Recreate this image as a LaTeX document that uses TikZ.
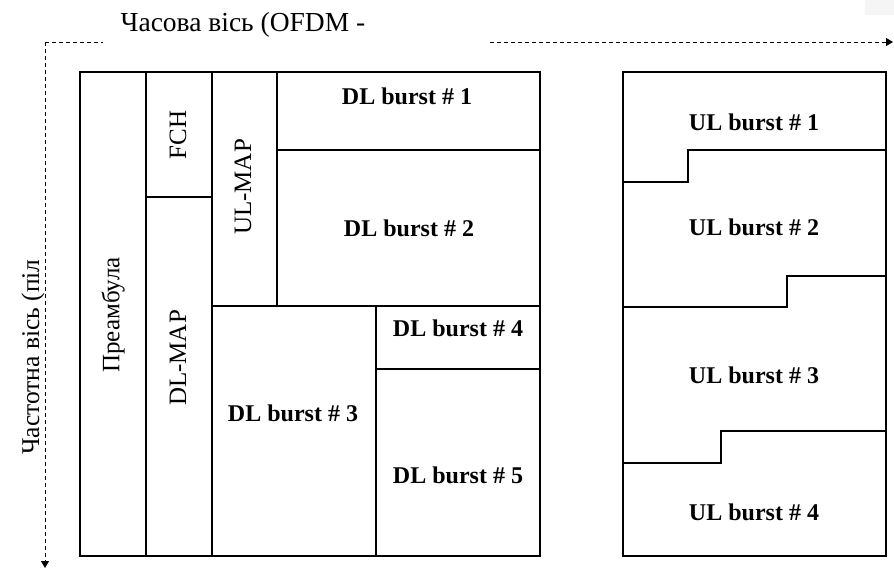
\documentclass[tikz,border=0pt]{standalone}
\usepackage{fontspec}
\setmainfont{Liberation Serif}
\usetikzlibrary{arrows.meta}

\tikzset{
  frame/.style={line width=1.1pt},
  axisline/.style={line width=0.9pt,dash pattern=on 4pt off 3pt},
  axis/.style={axisline,-{Triangle[length=7pt,width=8pt]}},
  axislabel/.style={font=\fontsize{27.5}{30}\selectfont,inner sep=0pt},
  burst/.style={font=\fontsize{24}{26}\selectfont\bfseries,inner sep=0pt},
  vlabel/.style={font=\fontsize{25}{27}\selectfont,inner sep=0pt,rotate=90}
}

\begin{document}
\begin{tikzpicture}[x=1pt,y=-1pt]
  \useasboundingbox (0,0) rectangle (894,569);
  \fill[gray!8] (865,0) rectangle (894,15);

  % axes
  \coordinate (o) at (45,42);
  \coordinate (tgap) at (103,42);
  \coordinate (tres) at (490,42);
  \coordinate (tend) at (893,42);
  \coordinate (fend) at (45,568);
  \draw[axisline] (o) -- (tgap);
  \draw[axis] (tres) -- (tend);
  \draw[axis] (o) -- (fend);
  \node[axislabel] (tlabel) at (243,25) {Часова вісь (OFDM -};
  \node[axislabel,font=\fontsize{25.5}{28}\selectfont,rotate=90] (flabel) at (33,357) {Частотна вісь (піл};

  % DL subframe
  \draw[frame] (80,72) rectangle (540,556);
  \draw[frame] (146,72) -- (146,556);
  \draw[frame] (212,72) -- (212,556);
  \draw[frame] (277,72) -- (277,306);
  \draw[frame] (146,197) -- (212,197);
  \draw[frame] (277,150) -- (540,150);
  \draw[frame] (212,306) -- (540,306);
  \draw[frame] (376,306) -- (376,556);
  \draw[frame] (376,369) -- (540,369);

  \node[vlabel] (pre) at (113,315) {Преамбула};
  \node[vlabel] (fch) at (178,135) {FCH};
  \node[vlabel] (ulmap) at (243,187) {UL-MAP};
  \node[vlabel] (dlmap) at (178,358) {DL-MAP};
  \foreach \n/\x/\y in {1/407/96,2/409/228,3/293/413,4/458/328,5/458/475}
    \node[burst] (dl\n) at (\x,\y) {DL burst \# \n};

  % UL subframe
  \draw[frame] (623,72) rectangle (886,556);
  \draw[frame] (623,182) -- (688,182) -- (688,150) -- (886,150);
  \draw[frame] (623,307) -- (787,307) -- (787,276) -- (886,276);
  \draw[frame] (623,463) -- (721,463) -- (721,431) -- (886,431);
  \foreach \n/\y in {1/122,2/227,3/375,4/512}
    \node[burst] (ul\n) at (754,\y) {UL burst \# \n};
\end{tikzpicture}
\end{document}
